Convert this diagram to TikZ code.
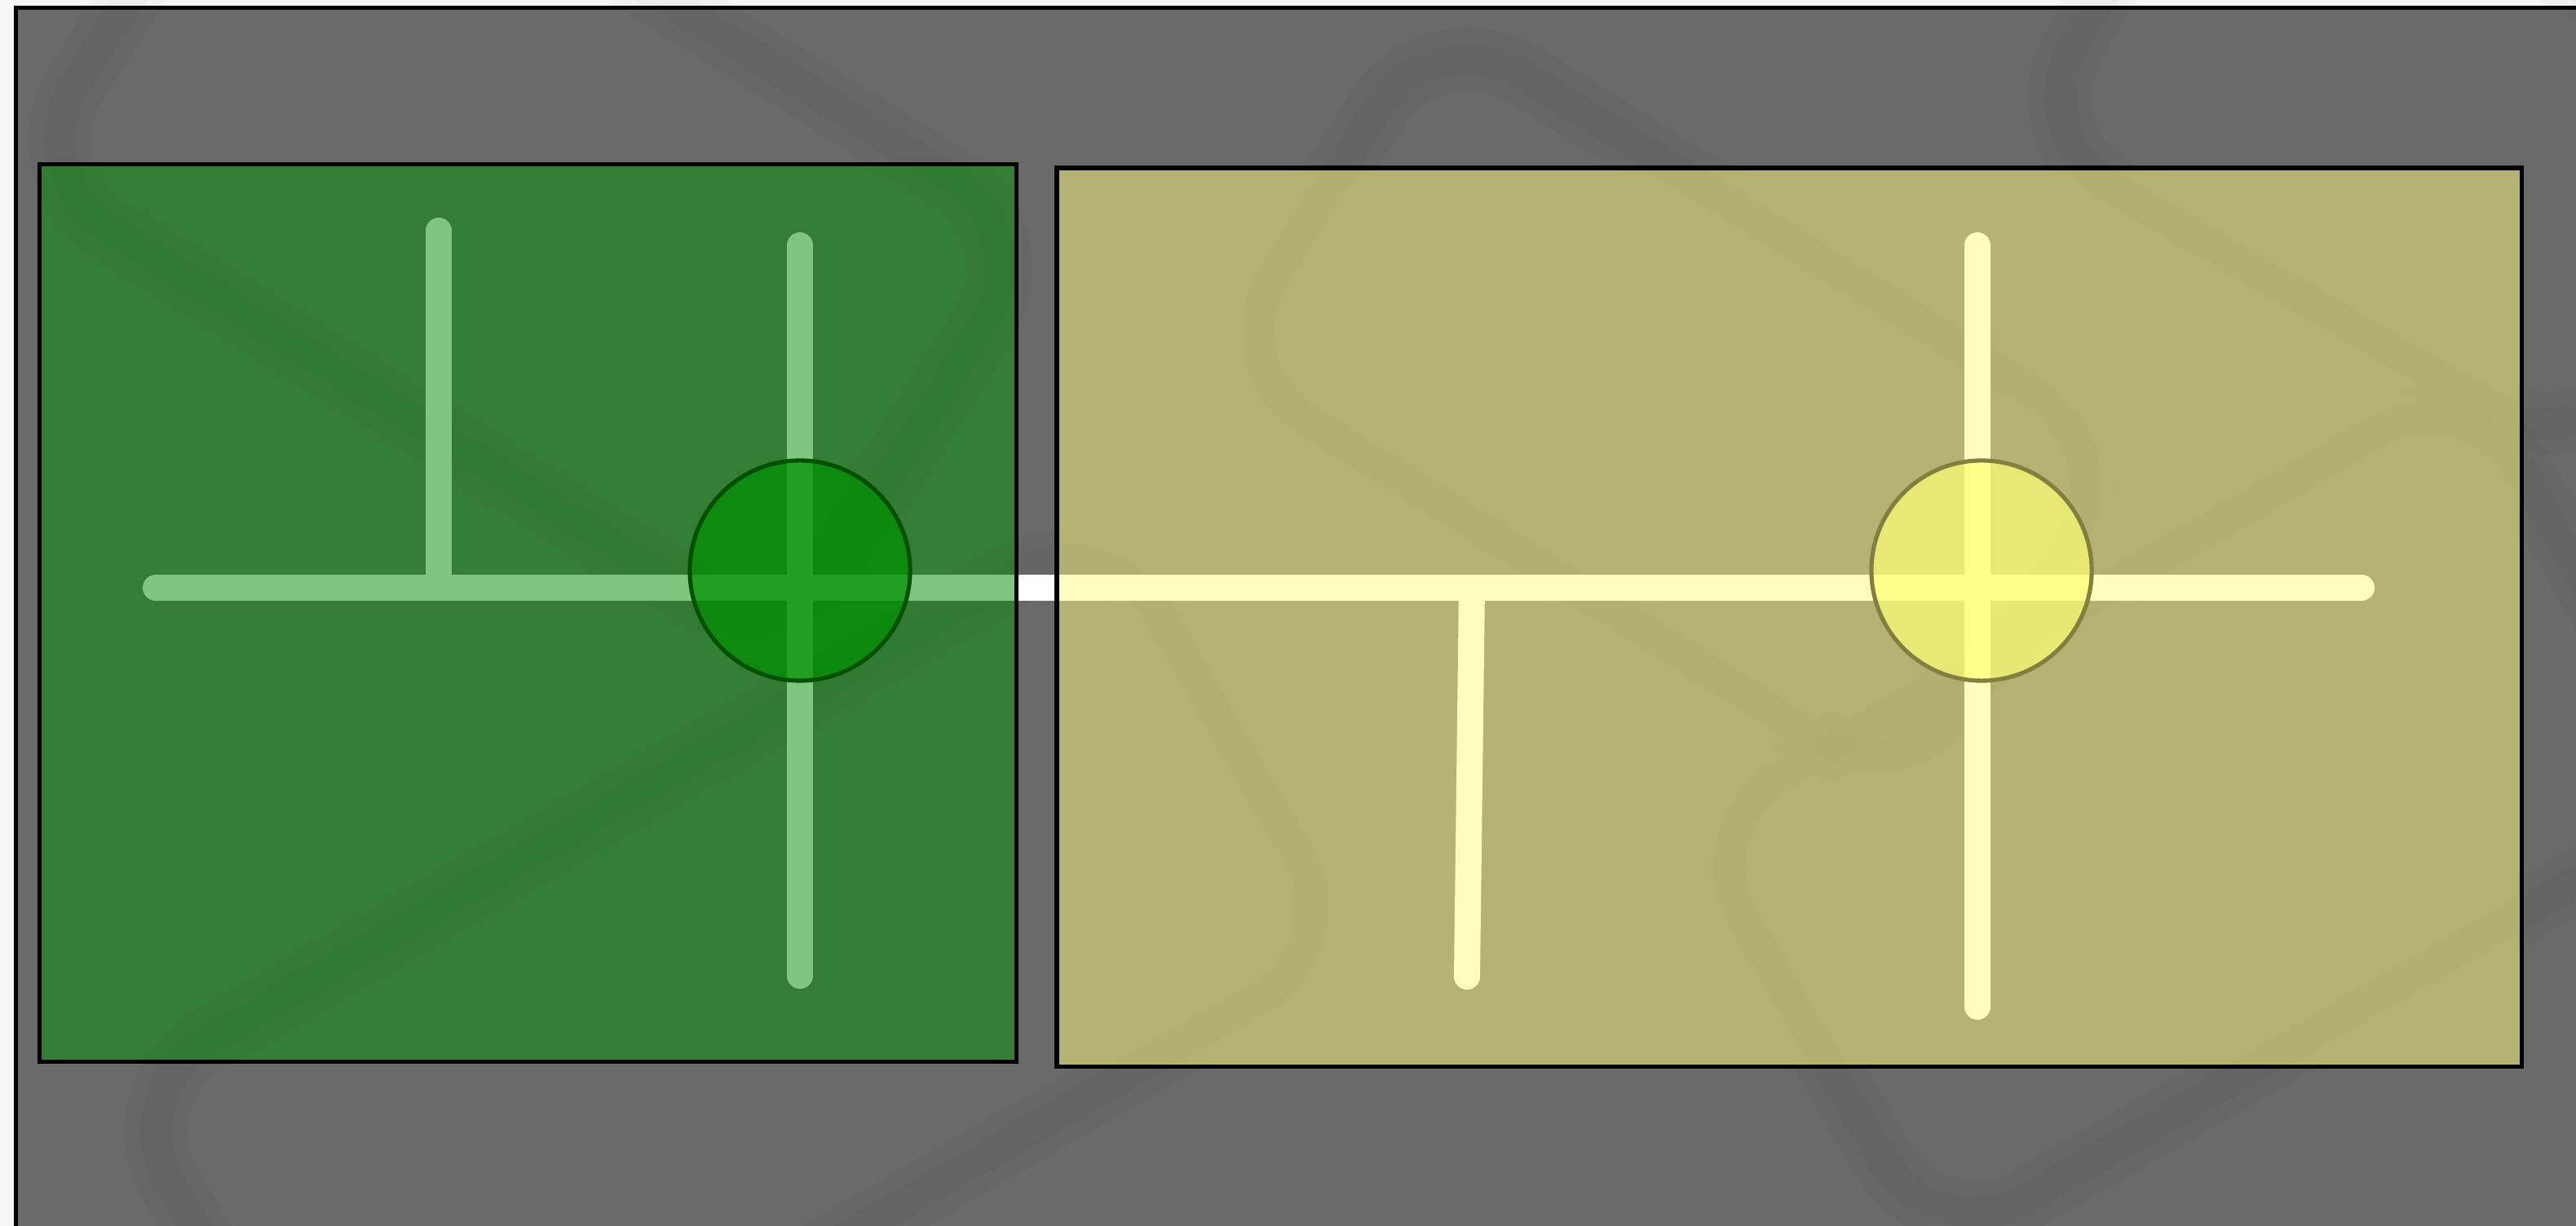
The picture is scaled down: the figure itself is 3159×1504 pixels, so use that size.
\documentclass[tikz,border=0pt]{standalone}
\usepackage{tikz}
\usetikzlibrary{positioning, calc}
\definecolor{pagegray}{RGB}{245,245,245}
\definecolor{framegray}{RGB}{106,106,106}
\definecolor{cgreen}{RGB}{0,144,0}
\definecolor{cyellow}{RGB}{255,253,124}
\definecolor{hubgreen}{RGB}{0,143,0}
\definecolor{hubgreenline}{RGB}{0,80,0}
\definecolor{hubyellow}{RGB}{255,255,118}
\definecolor{hubyellowline}{RGB}{128,128,64}

\begin{document}
\begin{tikzpicture}[
    x=0.01cm, y=-0.01cm,
    track/.style={draw=white, line width=9.1pt, line cap=round},
    zonebox/.style={draw=black, line width=1.45pt, inner sep=0pt, outer sep=0pt, anchor=north west, fill opacity=0.5, draw opacity=1},
    hub/.style={circle, inner sep=0pt, outer sep=0pt, minimum size=2.7cm, line width=1.45pt, draw opacity=1},
    ghost/.style={draw=black, draw opacity=0.018, line width=22pt, rounded corners=1.3cm,
        postaction={draw=black, draw opacity=0.018, line width=11pt}},
]
    \useasboundingbox (0,0) rectangle (3159,1504);
    \fill[pagegray] (0,0) rectangle (3159,1504);
    \clip (0,0) rectangle (3159,1504);
    \draw[fill=framegray, line width=1.45pt] (19.5,9.5) rectangle (3250,1600);

    % faint wallpaper behind everything
    \draw[ghost, rotate around={-32:(650,250)}] (100,-50) rectangle (1200,550);
    \draw[ghost, rotate around={-32:(2050,500)}] (1550,250) rectangle (2550,750);
    \draw[ghost, rotate around={30:(2700,1000)}] (2150,700) rectangle (3250,1300);
    \draw[ghost, rotate around={30:(900,1250)}] (200,950) rectangle (1600,1550);
    \draw[ghost, rotate around={-30:(2950,150)}] (2550,-100) rectangle (3350,400);

    % track layout
    \coordinate (mainW) at (191,721);
    \coordinate (mainE) at (2896,721);
    \coordinate (spurA) at (538,283);
    \coordinate (spurAfoot) at (538,721);
    \coordinate (greenN) at (981,301);
    \coordinate (greenS) at (981,1197);
    \coordinate (spurB) at (1805,721);
    \coordinate (spurBend) at (1799,1198);
    \coordinate (yellowN) at (2425,301);
    \coordinate (yellowS) at (2425,1235);

    \draw[track] (mainW) -- (mainE);
    \draw[track] (spurA) -- (spurAfoot);
    \draw[track] (greenN) -- (greenS);
    \draw[track] (spurB) -- (spurBend);
    \draw[track] (yellowN) -- (yellowS);

    \node[zonebox, fill=cgreen, minimum width=11.975cm, minimum height=11.005cm] (greenzone) at (48.5,201.5) {};
    \node[zonebox, fill=cyellow, minimum width=17.95cm, minimum height=11.02cm] (yellowzone) at (1296,206) {};

    \node[hub, fill=hubgreen, fill opacity=0.73, draw=hubgreenline] (greenhub) at (981,700) {};
    \node[hub, fill=hubyellow, fill opacity=0.7, draw=hubyellowline] (yellowhub) at (2430,700) {};
\end{tikzpicture}
\end{document}
